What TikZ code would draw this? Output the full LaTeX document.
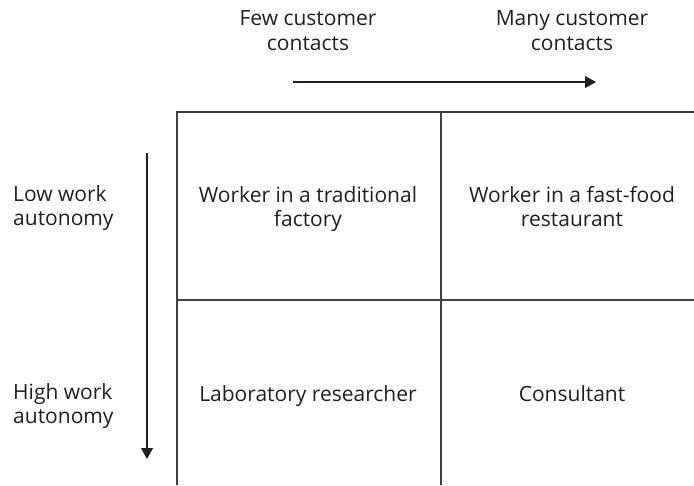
\documentclass[tikz,border=0pt]{standalone}
\usepackage{fontspec}
\setmainfont{Open Sans}
\usetikzlibrary{arrows.meta}
\definecolor{ink}{HTML}{231F20}
\begin{document}
\begin{tikzpicture}[x=1pt,y=-1pt,
  grid/.style={draw=black!75, line width=1.3pt},
  axis/.style={draw=ink, line width=1.1pt, -{Triangle[width=12pt,length=11pt]}},
  lbl/.style={font=\fontsize{21}{24.5}\selectfont, align=center, inner sep=0pt, text=ink, anchor=base},
  side/.style={lbl, align=left, anchor=base west}]
\useasboundingbox (0,0) rectangle (694,485);
% grid
\coordinate (tl) at (177,112);
\coordinate (tr) at (694,112);
\coordinate (bl) at (177,485);
\coordinate (tm) at (441,112);
\coordinate (bm) at (441,485);
\coordinate (ml) at (177,300);
\coordinate (mr) at (694,300);
\draw[grid] (bl) -- (tl) -- (tr);
\draw[grid] (tm) -- (bm);
\draw[grid] (ml) -- (mr);
% axes
\coordinate (ha) at (293,82);
\coordinate (hb) at (596,82);
\coordinate (va) at (147,153);
\coordinate (vb) at (147,459);
\draw[axis] (ha) -- (hb);
\draw[axis] (va) -- (vb);
% labels (anchor base = baseline of last line)
\node[lbl] (few) at (308,50) {Few customer\\contacts};
\node[lbl] (many) at (572,50) {Many customer\\contacts};
\node[side] (low) at (13,225.5) {Low work\\autonomy};
\node[side] (high) at (13,423.5) {High work\\autonomy};
% cells
\node[lbl] (c11) at (308,226.5) {Worker in a traditional\\factory};
\node[lbl] (c12) at (572,226.5) {Worker in a fast-food\\restaurant};
\node[lbl] (c21) at (308,401) {Laboratory researcher};
\node[lbl] (c22) at (572,401) {Consultant};
\end{tikzpicture}
\end{document}
